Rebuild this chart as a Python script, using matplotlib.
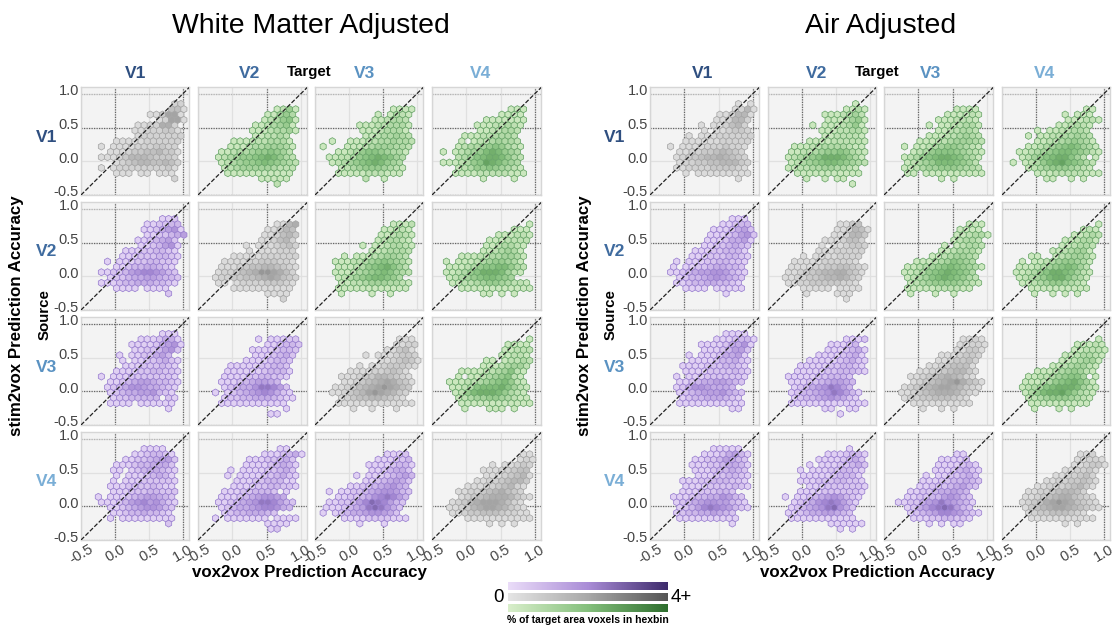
import numpy as np
import matplotlib
matplotlib.use('Agg')
import matplotlib.pyplot as plt
from matplotlib.colors import LinearSegmentedColormap
from matplotlib.cm import ScalarMappable
from matplotlib.transforms import ScaledTranslation

plt.rcParams['font.family'] = ['Liberation Sans', 'DejaVu Sans']

# each panel: rows of hexbins from top (y about 0.85) to bottom (y about -0.34)
# digit = share of target voxels in the bin, in steps of 0.3 %, '.' = empty
wm_v1_v1 = ["..............22", ".............441", "..........113771", "...........12771", "........1122662", ".......11222331", "........12222222", "....11111222222", "..1.11112223322", "...111233445331", "..1112355543332", "....12345544542", "..1.12222222231", "....111.11.111", "..............2"]
wm_v1_v2 = ["", "...........1251", "..........11453", ".........123561", "........1123451", ".......11123341", "........112232", "....1112223331", "....11123344431", "..112334556542", "..1234556787532", "..1234556765432", "...123444443222", "...11111111111", ".........11111", "...........2"]
wm_v1_v3 = ["", "...........1111", ".........1.1321", "........112332", "......111223331", "......11123331", ".......11233432", ".1..11122334332", "1...11123444332", "..112356654331", ".1122356787643", ".123456787543", "...12345554321", "..11111222111", ".......2..1"]
wm_v1_v4 = ["", "...........111", "..........1111", ".......1111111", "......11122321", "......1122332", "....111223332", "...1.12234332", "...12334565321", "1.12345787543", "...23467887532", "1112356987543", "...12355654321", "..111122222111", ".......1....1"]
wm_v2_v1 = ["............112", ".........112233", ".........1124561", ".........1122345", "........1123452", "........1123561", "......111223321", ".....1112223321", "...1.1112233221", "....1123344321", "..1122356776532", "...122344554332", "..1112334443321", "....1111.1111", ".............2"]
wm_v2_v2 = ["", "...........1156", "..........11354", ".........112453", ".........112452", "......1.1112342", ".......1.111222", "....11111222222", "...111122333221", "..1112344554321", "..1223456887642", ".12233445676432", "..11.1222233321", "....1111111111", "..........1111", "............2"]
wm_v2_v3 = ["", "...........1112", "..........11221", ".........112321", ".........123321", "......1.1123321", "........1123332", "...1.111234432", "..1112234565431", "..111235678642", "..1112345676432", "..12345677653", "...112234443321", "..111111111111", "...1....1..1"]
wm_v2_v4 = ["", "..............1", "............111", ".........111221", "........1112222", ".......1123321", ".......1123431", "...11122334431", ".1.11123455431", ".1112356677532", ".1123568887421", ".12345677654", "..1122345543221", "...111111111111", ".......11.1.1"]
wm_v3_v1 = ["............111", "........1112441", ".......111124561", ".......11223562", ".....1.1122453", ".....1.11223421", "......111222321", "....11112233221", "..1.11122222221", "...112345543321", "...123466544321", "...12344556321", "....12233333.21", "...1111.111111", ".............1"]
wm_v3_v2 = ["", "........1.11122", "..........112332", ".......11112332", "........1112342", "......11112332", "....1111122332", "...11111123331", "...11112233221", "..1112345543", "...12344688752", ".1.12345676421", "...122334443211", "..11111111111", ".............1", "..........11"]
wm_v3_v3 = ["", "............111", "............1122", "..........11341", ".......1.1112332", ".........1123431", "......1.11233321", "....1111223431", "...111233554321", "...112345676431", "..1123456787643", ".1123457876532", "...12344554321", "..1111111111111", ".....1..1...1"]
wm_v3_v4 = ["", "..............1", "...........1111", "..........11222", "..........11221", ".......11.12232", ".......11123442", "...11112234621", "...1.112345621", ".1112234567521", "..1123677786421", "..125788875321", "...123445543211", "...111111111111", "....1...111.1"]
wm_v4_v1 = [".........1111", ".......1123321", "......112234552", "....1112334442", "....11.12344321", "....1.11123431", "....1.111222221", "...11122223211", "....11122233222", ".1.11123455432", "..1112356756421", "...11234566532", "....1123343321", "...1.111111111", ".............2"]
wm_v4_v2 = ["............11", ".........1112341", ".......11122342", "......111123431", "....1.111122342", "...1.1111223421", ".....1112233311", "....11112233221", "...111223332.1", "..11123456654", "..1123456887532", "..123445677643", "...123344432", ".1.1111111.1111", "..........1111", "..........12"]
wm_v4_v3 = ["", "..........1112", ".........111223", ".......11112331", "........1123442", ".....1.11123453", ".......11234542", "....1122345643", ".1.112234566532", "..112234678753", ".1122357987532", "1112345898642", "1.12344566542", "...11112222111", "......1...1"]
wm_v4_v4 = ["", ".............11", ".............121", "........1.11232", ".......11122344", ".......11123451", "......112234553", "....1112234521", "...11223456432", "...123456665321", "..123567776421", ".1123567765321", "..1123344432211", "....11111111111", "........1.1.1"]

air_v1_v1 = [".............1.1", "............1251", "..........112551", ".........112552", ".......1.112452", ".......1.112332", ".....1.111222222", "....11111122222", "..1.11112223221", "...11223345432", "...123345565432", "...122334455532", "...112222333321", "....1.111111111", ".............1"]
air_v1_v2 = [".............1", "...........1131", "........1112342", "........1112451", "......1.1112351", ".......11122331", "........1122221", ".....1111222221", "...111223333211", "..1122345565321", "..1234568887531", "..1234567765432", "..112233443321", "...11111111111", ".....1..1.11", "............1"]
air_v1_v3 = ["", "..........1111", ".........111121", ".......1112221", "......1.1122331", ".......1122332", "......111223432", "....11122344432", "..1.11234554321", "...123566654321", "..1235678876431", "..123457776542", "..1123445554332", "..11.1111111111", "........1.1"]
air_v1_v4 = ["", "............11", ".........1.111", ".........111221", "........112321", "....1.1122332", "...1.112233432", "....1122345431", "...112345676431", ".11234567765421", "..12456788642.1", "1.123578976532", "...12345554321", "....11122222111", "......11..1.1"]
air_v2_v1 = ["............111", "..........11233", ".........1112452", "........11123562", "........11124451", ".......11223432", "......111223331", ".....1112223321", "...1.1112233221", "..1.1122344332", "..1123455665321", "...12334565432", "...11233443321", "....1111.11111", "...........1"]
air_v2_v2 = ["", "..........1134", "..........112541", ".........112553", "........1112442", ".......1.112332", ".......11122222", "....1.11112222", "...11111222221", "..1111223344321", "..1123345566431", ".1122334556532", "..112233333221", "....11111.1111", ".....1....111", "...........1"]
air_v2_v3 = ["", "............111", "...........1111", "..........112331", "..........12332", "........1.12332", "........1123331", "......11234432", "....1112346543", "..1123456765431", "..112356787653", "..123467876532", "...123455554321", "..11111222211", "...1...1..1"]
air_v2_v4 = ["", "..............1", "............121", "..........11232", ".........112331", "........112332", ".......1123441", "...11..1234431", "..1.1123455431", ".111234567642", ".1123568876421", ".123457886431", "..11234554321", "...1111111111", "....1..1.1.1"]
air_v3_v1 = ["...........1111", ".........1112331", ".......111124461", ".......11123552", ".....1.11124451", ".....1111233421", "....11112223321", "....11112222321", "...1.1112222221", "...11234455432", "...1246654443", "...12345556432", "....1233444321", "...11111111111", "............11"]
air_v3_v2 = ["", "...........1112", ".........11123", "........1112341", ".......11112341", ".....1111123421", "....11111223321", "...111112233321", "..11111223332", "..11122345543", "...1234568753", "..123345687531", "...12334565421", "..1111111111111", "........11..11", "..........1"]
air_v3_v3 = ["", "...........1121", "...........11221", "..........11331", "........1112332", ".......1123342", "......11234441", "....1122345531", "...11234565421", "...123456786431", "..1234567765321", ".1123456665321", "..12233444321", "...1111111111", ".....1..1.1"]
air_v3_v4 = ["", "..............1", "...........11121", "..........112221", ".........1123321", "........1123441", ".......11234421", "....1112345421", "...1122345664.1", "..111235678641", "..1234678887421", "..135788975321", "...12345554321", "...1111111111", "....1...1.1"]
air_v4_v1 = [".........11111", ".......11124531", "......112235432", ".....1112234431", "......111233432", "......111223321", "....11122333221", "....11112222321", "....111222332", "..111233446532", "...123456655321", "...123578765321", "...1233445432", "...1111111111", "............1"]
air_v4_v2 = ["............1", "........1112331", ".......11112342", ".....1.11122342", "....1.111223321", "....1111123331", "....11122233221", ".....1112222221", "....11112222221", ".1.11234565321", "...12346787531", "..12345689642", "..11234455432", "..11111111111", ".........111111", "..........1.1"]
air_v4_v3 = ["", "..........11", "........11112", ".......1111231", ".......11123421", ".....1.1122342", ".....1112233432", "....1122234532", "...1122344543", "..11223356532", ".1122456865431", "..12457898532", "...123457765321", "...1112233221", "......1.1.11"]
air_v4_v4 = ["", "...........112", "...........11221", "..........112331", ".........112231", ".......1122342", "......112233431", "....1122234531", "...1122345542", "..112345664321", "..1234678764321", "..1345677654321", "...1233444321", "...11111111111", ".........1.1"]

wm_panels = [[wm_v1_v1, wm_v1_v2, wm_v1_v3, wm_v1_v4],
             [wm_v2_v1, wm_v2_v2, wm_v2_v3, wm_v2_v4],
             [wm_v3_v1, wm_v3_v2, wm_v3_v3, wm_v3_v4],
             [wm_v4_v1, wm_v4_v2, wm_v4_v3, wm_v4_v4]]
air_panels = [[air_v1_v1, air_v1_v2, air_v1_v3, air_v1_v4],
              [air_v2_v1, air_v2_v2, air_v2_v3, air_v2_v4],
              [air_v3_v1, air_v3_v2, air_v3_v3, air_v3_v4],
              [air_v4_v1, air_v4_v2, air_v4_v3, air_v4_v4]]

areas = ['V1', 'V2', 'V3', 'V4']
area_colors = ['#2f4f80', '#3f6b9f', '#5a92c2', '#7aaed6']
tick_values = [-0.5, 0.0, 0.5, 1.0]
tick_labels = ['-0.5', '0.0', '0.5', '1.0']

# which grid lines came out dark in each column and row
wm_dark_x = [[0.0, 1.0], [0.5], [0.5], [1.0]]
air_dark_x = [[0.0, 1.0], [0.0], [0.0, 0.5], [0.0, 1.0]]
dark_y = [[0.5, -0.5], [0.5, -0.5], [1.0, 0.0], [0.0]]

W, H = 1114, 627
fig = plt.figure(figsize=(W / 100, H / 100), dpi=100)

purples = LinearSegmentedColormap.from_list('p', ['#eadcf8', '#a98cd6', '#3d2a6b'])
grays = LinearSegmentedColormap.from_list('g', ['#e4e4e4', '#a8a8a8', '#555555'])
greens = LinearSegmentedColormap.from_list('gr', ['#d8eeca', '#84bf7c', '#2e6e2e'])
edge_colors = {'p': '#9a80d0', 'g': '#a6a6a6', 'gr': '#6aa66a'}

dx = 0.09
dy = 0.079


def add_ax(left, top, right, bottom):
    return fig.add_axes([left / W, 1 - bottom / H, (right - left) / W, (bottom - top) / H])


def hex_points(rows):
    xs, ys, cs = [], [], []
    for r, row in enumerate(rows):
        m = 10 - r
        for i, ch in enumerate(row):
            if ch == '.':
                continue
            xs.append(-0.38 + i * dx + (m % 2) * dx / 2)
            ys.append(0.06 + m * dy)
            cs.append(int(ch) * 0.3)
    return xs, ys, cs


def draw_group(panels, lefts, rights, tops, bottoms, dark_x):
    for r in range(4):
        for c in range(4):
            ax = add_ax(lefts[c], tops[r], rights[c], bottoms[r])
            ax.set_facecolor('#f3f3f3')
            for s in ax.spines.values():
                s.set_color('#d6d6d6')
                s.set_linewidth(1.0)
            ax.grid(True, color='#e0e0e0', lw=0.9)
            ax.set_axisbelow(True)
            for v in dark_x[c]:
                ax.axvline(v, color='#666666', lw=0.9, ls=(0, (1, 1)), zorder=0.7)
            for v in dark_y[r]:
                ax.axhline(v, color='#666666', lw=0.9, ls=(0, (1, 1)), zorder=0.7)
            for v in (1.0, -0.5):
                if v not in dark_y[r]:
                    ax.axhline(v, color='#b5b5b5', lw=0.9, ls=(0, (1, 1)), zorder=0.7)

            if r == c:
                cmap, key = grays, 'g'
            elif c > r:
                cmap, key = greens, 'gr'
            else:
                cmap, key = purples, 'p'
            xs, ys, cs = hex_points(panels[r][c])
            ax.hexbin(xs, ys, C=cs, gridsize=(18, 10), extent=(-0.47, 1.15, -0.572, 1.008),
                      cmap=cmap, vmin=0, vmax=4, edgecolors=edge_colors[key], linewidths=0.55)
            ax.plot([-0.5, 1.1], [-0.5, 1.1], color='#222222', lw=0.9, ls=(0, (3.5, 1.5)), zorder=3)
            ax.set_xlim(-0.5, 1.09)
            ax.set_ylim(-0.5, 1.1)
            ax.set_xticks(tick_values)
            ax.set_yticks(tick_values)
            ax.tick_params(length=0, pad=1.5, labelsize=10.5, labelcolor='#444444')
            if c == 0:
                ax.set_yticklabels(tick_labels)
                # labels sit a little above their grid lines in the original
                for t in ax.get_yticklabels():
                    t.set_transform(t.get_transform() + ScaledTranslation(0, 4 / 100, fig.dpi_scale_trans))
            else:
                ax.set_yticklabels([])
            if r == 3:
                ax.set_xticklabels(tick_labels, rotation=30, ha='center')
            else:
                ax.set_xticklabels([])


tops = [87, 202, 317, 432]
bottoms = [195, 310, 425, 540]
draw_group(wm_panels, [81, 198, 315, 432], [189, 307, 423, 541], tops, bottoms, wm_dark_x)
draw_group(air_panels, [650, 768, 884, 1002], [759, 876, 993, 1110], tops, bottoms, air_dark_x)


def label(x, y, s, **kw):
    fig.text(x / W, 1 - y / H, s, ha='center', va='center', **kw)


label(311, 26, 'White Matter Adjusted', fontsize=20.4, color='black')
label(881, 26, 'Air Adjusted', fontsize=20.4, color='black')
label(309, 72, 'Target', fontsize=10.8, fontweight='bold')
label(877, 72, 'Target', fontsize=10.8, fontweight='bold')
for i in range(4):
    label([136, 250, 365, 480][i], 73, areas[i], fontsize=12.5, fontweight='bold', color=area_colors[i])
    label([703, 817, 931, 1045][i], 73, areas[i], fontsize=12.5, fontweight='bold', color=area_colors[i])
    label(47, [138, 252, 367, 481][i], areas[i], fontsize=12.5, fontweight='bold', color=area_colors[i])
    label(615, [138, 252, 367, 481][i], areas[i], fontsize=12.5, fontweight='bold', color=area_colors[i])
label(45, 315, 'Source', fontsize=10.8, fontweight='bold', rotation=90)
label(611, 315, 'Source', fontsize=10.8, fontweight='bold', rotation=90)
label(17, 316, 'stim2vox Prediction Accuracy', fontsize=12.2, fontweight='bold', rotation=90)
label(585, 316, 'stim2vox Prediction Accuracy', fontsize=12.2, fontweight='bold', rotation=90)
label(309, 572, 'vox2vox Prediction Accuracy', fontsize=12.2, fontweight='bold')
label(877, 572, 'vox2vox Prediction Accuracy', fontsize=12.2, fontweight='bold')

# colour scale shared by all panels
bar_cmaps = [purples, grays, greens]
bar_tops = [582, 593, 604]
for cmap, t in zip(bar_cmaps, bar_tops):
    cax = add_ax(508, t, 668, t + 8)
    sm = ScalarMappable(cmap=cmap, norm=plt.Normalize(0, 4))
    cb = fig.colorbar(sm, cax=cax, orientation='horizontal')
    cb.set_ticks([])
    cb.outline.set_visible(False)
label(499, 597, '0', fontsize=13.5)
label(681, 597, '4+', fontsize=13.5)
label(588, 620, '% of target area voxels in hexbin', fontsize=7.5, fontweight='bold')

fig.savefig('out.png', dpi=100)
